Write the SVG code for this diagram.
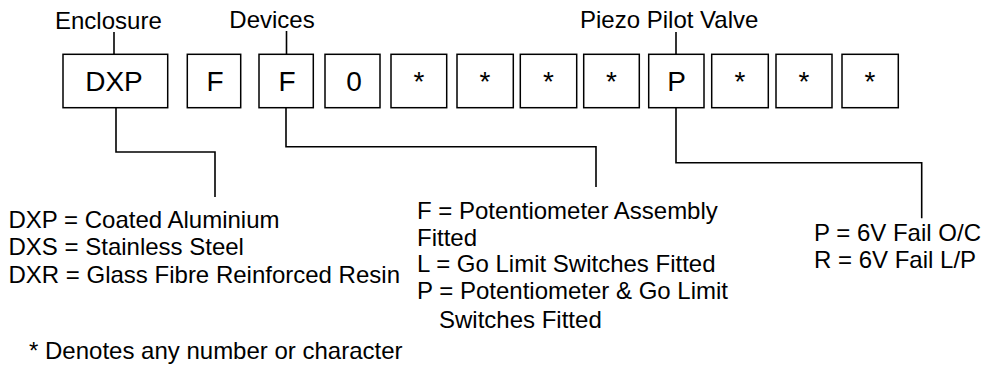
<svg xmlns="http://www.w3.org/2000/svg" width="985" height="367" viewBox="0 0 985 367">
<style>
text{font-family:"Liberation Sans",Arial,sans-serif;fill:#000}
.lbl{font-size:24px}
.box{fill:#fff;stroke:#000;stroke-width:1.5}
.bt{font-size:28px;text-anchor:middle}
.con{fill:none;stroke:#000;stroke-width:1.6}
</style>
<rect width="985" height="367" fill="#fff"/>
<g id="connectors">
<path class="con" d="M114 32V54.3"/>
<path class="con" d="M286.5 31V54.3"/>
<path class="con" d="M676 32V54.3"/>
<path class="con" d="M116 107.7V152H215V197"/>
<path class="con" d="M286 107.7V146.7H596V187"/>
<path class="con" d="M676 107.7V162.7H921.7V218.3"/>
</g>
<g id="label-enclosure"><text class="lbl" x="55" y="29">Enclosure</text></g>
<g id="label-devices"><text class="lbl" x="229.3" y="28">Devices</text></g>
<g id="label-piezo"><text class="lbl" x="580" y="28">Piezo Pilot Valve</text></g>
<g id="box1"><rect class="box" x="63" y="54.3" width="104.7" height="53.4"/><text class="bt" x="114" y="91">DXP</text></g>
<g id="box2"><rect class="box" x="187.3" y="54.3" width="53.4" height="53.4"/><text class="bt" x="215" y="91">F</text></g>
<g id="box3"><rect class="box" x="259" y="54.3" width="54.3" height="53.4"/><text class="bt" x="287" y="91">F</text></g>
<g id="box4"><rect class="box" x="325" y="54.3" width="55" height="53.4"/><text class="bt" x="354" y="91">0</text></g>
<g id="box5"><rect class="box" x="391" y="54.3" width="55.7" height="53.4"/><text class="bt" x="419" y="91">*</text></g>
<g id="box6"><rect class="box" x="457" y="54.3" width="56.3" height="53.4"/><text class="bt" x="485" y="91">*</text></g>
<g id="box7"><rect class="box" x="520.3" y="54.3" width="56.4" height="53.4"/><text class="bt" x="548.5" y="91">*</text></g>
<g id="box8"><rect class="box" x="583.7" y="54.3" width="55.6" height="53.4"/><text class="bt" x="611.5" y="91">*</text></g>
<g id="box9"><rect class="box" x="648.7" y="54.3" width="55.3" height="53.4"/><text class="bt" x="676.5" y="91">P</text></g>
<g id="box10"><rect class="box" x="711.7" y="54.3" width="56.6" height="53.4"/><text class="bt" x="740" y="91">*</text></g>
<g id="box11"><rect class="box" x="776" y="54.3" width="56" height="53.4"/><text class="bt" x="804" y="91">*</text></g>
<g id="box12"><rect class="box" x="842" y="54.3" width="56.3" height="53.4"/><text class="bt" x="870" y="91">*</text></g>
<g id="legend-enclosure">
<text class="lbl" x="8.5" y="228">DXP = Coated Aluminium</text>
<text class="lbl" x="8.5" y="254.5">DXS = Stainless Steel</text>
<text class="lbl" x="8.5" y="282.5">DXR = Glass Fibre Reinforced Resin</text>
</g>
<g id="legend-devices">
<text class="lbl" x="417" y="219">F = Potentiometer Assembly</text>
<text class="lbl" x="417" y="246">Fitted</text>
<text class="lbl" x="417" y="272">L = Go Limit Switches Fitted</text>
<text class="lbl" x="417" y="299.3">P = Potentiometer &amp; Go Limit</text>
<text class="lbl" x="439" y="328">Switches Fitted</text>
</g>
<g id="legend-valve">
<text class="lbl" x="814" y="240.7">P = 6V Fail O/C</text>
<text class="lbl" x="814" y="268.3">R = 6V Fail L/P</text>
</g>
<g id="footnote"><text class="lbl" x="29" y="359">* Denotes any number or character</text></g>
</svg>
